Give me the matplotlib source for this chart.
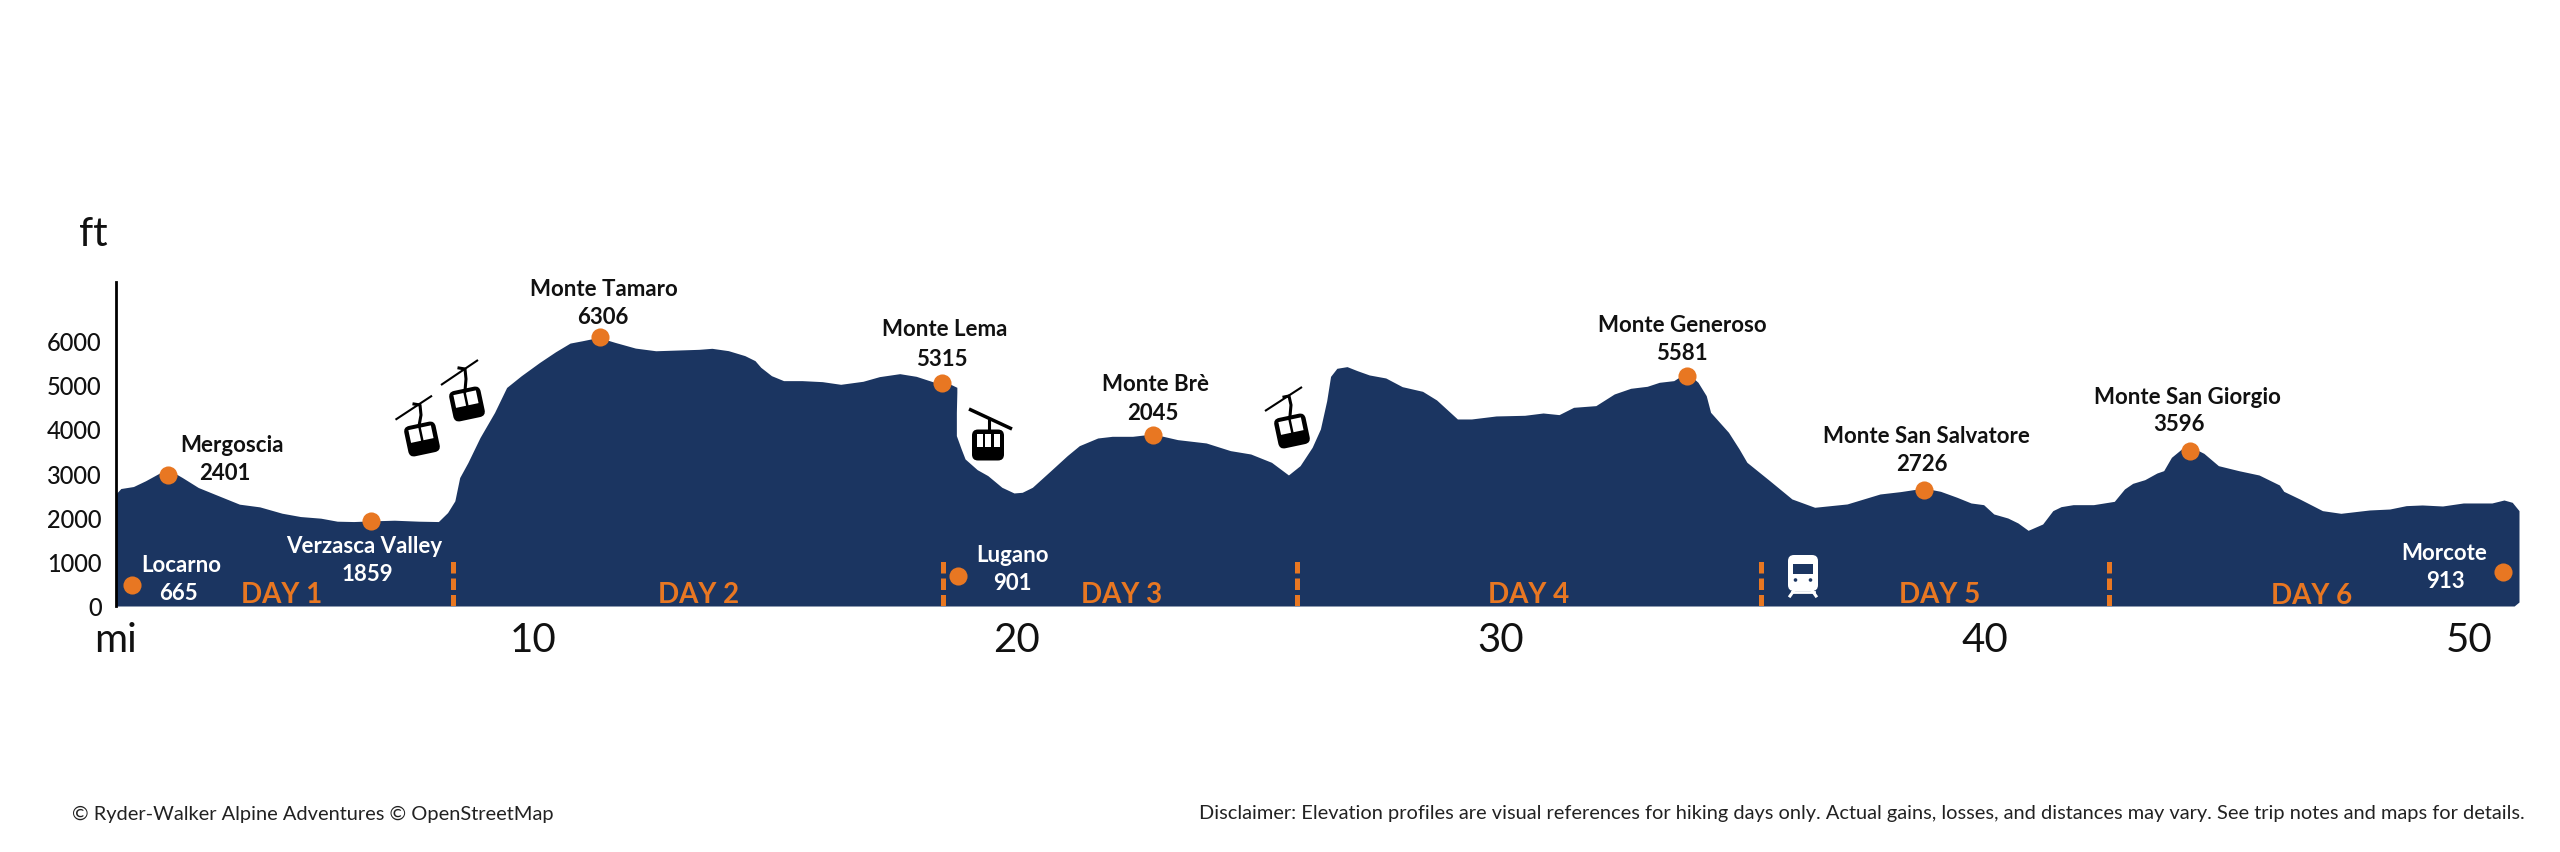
import matplotlib
matplotlib.use("Agg")
import matplotlib.pyplot as plt
from matplotlib.patches import FancyBboxPatch, Rectangle, Circle
from matplotlib.transforms import Affine2D

# elevation profile (miles, feet on the drawn scale)
miles = [1.38, 1.38, 1.49, 1.75, 2.0, 2.25, 2.46, 2.76, 3.09, 3.43, 3.94, 4.36, 4.82, 5.20, 5.62, 5.96, 6.30, 6.66,
         7.14, 7.65, 8.05, 8.24, 8.39, 8.49, 8.66, 8.91, 9.21, 9.46, 9.76, 10.14, 10.47, 10.77, 11.02, 11.36, 11.70,
         12.12, 12.54, 12.96, 13.43, 13.70, 14.04, 14.38, 14.59, 14.71, 14.93, 15.18, 15.56, 15.98, 16.36, 16.82,
         17.16, 17.58, 17.92, 18.30, 18.59, 18.76, 18.76, 18.75, 18.75, 18.85, 18.93, 19.18, 19.40, 19.69, 19.94,
         20.11, 20.32, 20.70, 21.04, 21.29, 21.67, 21.97, 22.39, 22.81, 23.32, 23.91, 24.41, 24.83, 25.26, 25.61,
         25.85, 26.10, 26.27, 26.40, 26.48, 26.61, 26.82, 27.03, 27.28, 27.62, 27.96, 28.38, 28.67, 29.10, 29.39,
         29.90, 30.49, 30.87, 31.20, 31.50, 31.96, 32.34, 32.68, 33.02, 33.27, 33.57, 33.84, 34.07, 34.24, 34.33,
         34.70, 34.92, 35.08, 35.55, 36.01, 36.48, 37.15, 37.83, 38.25, 38.74, 39.08, 39.42, 39.71, 39.97, 40.18,
         40.47, 40.68, 40.89, 41.19, 41.40, 41.57, 41.82, 42.24, 42.67, 42.88, 43.05, 43.30, 43.55, 43.69, 43.85,
         44.06, 44.23, 44.52, 44.82, 45.24, 45.66, 46.08, 46.17, 46.50, 46.97, 47.35, 47.94, 48.36, 48.70, 49.03,
         49.45, 49.88, 50.47, 50.72, 50.89, 51.03, 51.03, 50.93]
elevation = [0, 2520, 2650, 2695, 2825, 2975, 3087, 2898, 2673, 2522, 2297, 2236, 2093, 2018, 1981, 1913, 1905, 1920,
             1935, 1913, 1905, 2108, 2372, 2898, 3237, 3801, 4366, 4930, 5193, 5494, 5735, 5931, 5983, 6059, 5946,
             5818, 5758, 5773, 5790, 5813, 5760, 5648, 5535, 5384, 5196, 5084, 5084, 5061, 5001, 5069,
             5174, 5241, 5181, 5046, 5023, 4933, 4820, 4369, 3843, 3542, 3317, 3076, 2941, 2678, 2550,
             2565, 2678, 3053, 3392, 3617, 3790, 3828, 3828, 3881, 3753, 3678, 3505, 3429, 3241, 2956,
             3166, 3580, 3993, 4630, 5180, 5362, 5400, 5309, 5212, 5144, 4948, 4843, 4648, 4219, 4219,
             4287, 4302, 4354, 4317, 4482, 4520, 4783, 4911, 4956, 5046, 5084, 5272, 5046, 4745, 4370,
             3918, 3542, 3242, 2828, 2415, 2227, 2302, 2527, 2580, 2660, 2587, 2452, 2324, 2286, 2076,
             1985, 1873, 1707, 1850, 2151, 2241, 2286, 2286, 2361, 2640, 2767, 2850, 3000, 3053, 3354,
             3542, 3602, 3444, 3166, 3053, 2955, 2730, 2587, 2414, 2151, 2091, 2166, 2188, 2264, 2279,
             2256, 2324, 2324, 2391, 2339, 2151, 90, 0]

# orange dots
stop_miles = [1.72, 2.46, 6.66, 11.38, 18.45, 18.79, 22.81, 33.84, 38.74, 44.23, 50.70]
stop_feet = [474, 2963, 1925, 6061, 5031, 685, 3858, 5182, 2625, 3489, 760]

day_breaks = [8.35, 18.47, 25.79, 35.38, 42.56]
y_ticks = [0, 1000, 2000, 3000, 4000, 5000, 6000]
x_ticks = [1.38, 10, 20, 30, 40, 50]
x_tick_labels = ["mi", "10", "20", "30", "40", "50"]

# text, x px, y px
black_labels = [("Mergoscia", 232, 446), ("2401", 225, 474), ("Monte Tamaro", 604, 290), ("6306", 603, 318),
                ("Monte Lema", 945, 330), ("5315", 942, 359), ("Monte Brè", 1155, 385), ("2045", 1153, 414),
                ("Monte Generoso", 1682, 326), ("5581", 1682, 354), ("Monte San Salvatore", 1926, 437),
                ("2726", 1922, 465), ("Monte San Giorgio", 2187, 398), ("3596", 2179, 425)]
white_labels = [("Locarno", 181, 566), ("665", 178, 594), ("Verzasca Valley", 364, 547), ("1859", 367, 575),
                ("Lugano", 1012, 555), ("901", 1012, 584), ("Morcote", 2444, 554), ("913", 2445, 582)]
day_labels = [("DAY 1", 282, 595), ("DAY 2", 699, 595), ("DAY 3", 1122, 595), ("DAY 4", 1529, 595),
              ("DAY 5", 1940, 595), ("DAY 6", 2312, 596)]

NAVY = "#1b3561"
ORANGE = "#e87722"
W, H = 2560, 853

plt.rcParams["font.family"] = ["Lato", "DejaVu Sans"]

fig = plt.figure(figsize=(W / 100, H / 100), dpi=100)
ax = fig.add_axes([115.5 / W, 1 - 607 / H, (2519 - 115.5) / W, (607 - 283) / H])
ax.set_xlim(1.38, 51.03)
ax.set_ylim(0, 7309)
ax.fill_between(miles, elevation, 0, color=NAVY, lw=0, zorder=2)
ax.scatter(stop_miles, stop_feet, s=170, color=ORANGE, lw=0, zorder=4, clip_on=False)
ax.vlines(day_breaks, 0, 1030, color=ORANGE, lw=3.6, linestyles=(0, (2.3, 1.0)), zorder=3)

for s in ["top", "right", "bottom"]:
    ax.spines[s].set_visible(False)
ax.spines["left"].set_linewidth(2)
ax.set_xticks(x_ticks, x_tick_labels, fontsize=29, fontweight="normal", color="#111111")
ax.set_yticks(y_ticks, [str(v) for v in y_ticks], fontsize=17, fontweight="medium", color="#111111")
ax.tick_params(axis="both", length=0)
ax.tick_params(axis="x", pad=11)
ax.tick_params(axis="y", pad=10)


def label(txt, x, y, **kw):
    fig.text(x / W, 1 - y / H, txt, ha="center", va="center", **kw)


for txt, x, y in black_labels:
    label(txt, x, y, fontsize=16, fontweight="bold", color="#111111", zorder=6)
for txt, x, y in white_labels:
    label(txt, x, y, fontsize=16, fontweight="bold", color="white", zorder=6)
for txt, x, y in day_labels:
    label(txt, x, y, fontsize=20, fontweight="bold", color=ORANGE, zorder=6)
label("ft", 93, 235, fontsize=29, fontweight="normal", color="#111111")
fig.text(72 / W, 1 - 814 / H, "© Ryder-Walker Alpine Adventures © OpenStreetMap", fontsize=14.4, va="center",
         color="#222222")
fig.text(2525 / W, 1 - 814 / H,
         "Disclaimer: Elevation profiles are visual references for hiking days only. "
         "Actual gains, losses, and distances may vary. See trip notes and maps for details.",
         fontsize=14.4, va="center", ha="right", color="#222222")

# overlay in pixels for the little icons
icons = fig.add_axes([0, 0, 1, 1], zorder=5)
icons.set_xlim(0, W)
icons.set_ylim(H, 0)
icons.axis("off")


def gondola(cx, cy, angle, cable, hanger, n_win=2, cable_lw=1.5):
    tr = Affine2D().rotate_deg(angle).translate(cx, cy) + icons.transData
    w, h = 32, 31
    icons.add_patch(FancyBboxPatch((-w / 2 + 4, -h / 2 + 4), w - 8, h - 8, boxstyle="round,pad=4,rounding_size=6",
                                   fc="black", ec="none", transform=tr))
    gap = 2.5
    ww = (w - 9 - gap * (n_win - 1)) / n_win
    for i in range(n_win):
        icons.add_patch(Rectangle((-w / 2 + 4.5 + i * (ww + gap), -h / 2 + 4), ww, h * 0.42, fc="white", ec="none",
                                  transform=tr))
    icons.plot(cable[0], cable[1], color="black", lw=cable_lw, solid_capstyle="butt")
    icons.plot(hanger[0], hanger[1], color="black", lw=2.2)


gondola(422, 440, -12, ([395.5, 432], [420.7, 396.7]), ([414, 420, 421, 419], [405, 406, 416, 427]))
gondola(467, 405, -12, ([441, 478], [386, 361]), ([459, 465, 466, 465], [369, 370, 380, 392]))
gondola(988, 446, 0, ([969, 1012], [410, 430]), ([988.6, 988.6], [420, 432]), n_win=3, cable_lw=2.5)
gondola(1292, 432, -12, ([1265, 1302], [412, 388]), ([1284, 1289, 1291, 1290], [398, 397, 406, 417]))

# train
icons.add_patch(FancyBboxPatch((1792, 560), 22, 28, boxstyle="round,pad=4,rounding_size=6", fc="white", ec="none"))
icons.add_patch(Rectangle((1793, 565), 20, 10, fc=NAVY, ec="none"))
icons.add_patch(Circle((1795.5, 581), 1.8, fc=NAVY, ec="none"))
icons.add_patch(Circle((1810.5, 581), 1.8, fc=NAVY, ec="none"))
icons.plot([1790, 1795], [597, 590], color="white", lw=2.2)
icons.plot([1816, 1811], [597, 590], color="white", lw=2.2)
icons.plot([1792, 1814], [593, 593], color="white", lw=2)

fig.savefig("out.png", dpi=100)
